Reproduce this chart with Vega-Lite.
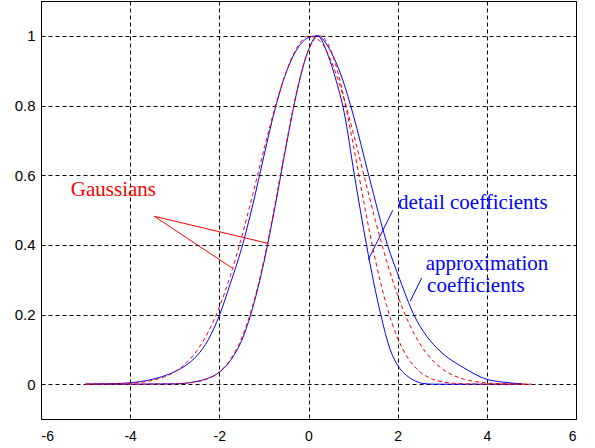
{
  "$schema": "https://vega.github.io/schema/vega-lite/v6.json",
  "width": 535,
  "height": 418,
  "autosize": {"type": "none"},
  "padding": {"left": 41, "top": 1, "right": 19, "bottom": 29},
  "background": "white",
  "config": {
    "view": {"stroke": "black", "strokeWidth": 1},
    "axis": {
      "grid": true, "gridColor": "black", "gridOpacity": 1, "gridDash": [4, 3], "gridWidth": 1,
      "domainColor": "black", "domainWidth": 1, "ticks": false, "tickSize": 0,
      "labelColor": "black", "labelFont": "Liberation Sans", "title": null
    }
  },
  "datasets": {
    "curves": [
      {"curve": "approx", "kind": "blue", "x": -5, "y": 0},
      {"curve": "approx", "kind": "blue", "x": -4.5, "y": 0.001},
      {"curve": "approx", "kind": "blue", "x": -4, "y": 0.004},
      {"curve": "approx", "kind": "blue", "x": -3.5, "y": 0.014},
      {"curve": "approx", "kind": "blue", "x": -3, "y": 0.036},
      {"curve": "approx", "kind": "blue", "x": -2.75, "y": 0.054},
      {"curve": "approx", "kind": "blue", "x": -2.5, "y": 0.082},
      {"curve": "approx", "kind": "blue", "x": -2.25, "y": 0.127},
      {"curve": "approx", "kind": "blue", "x": -2, "y": 0.197},
      {"curve": "approx", "kind": "blue", "x": -1.75, "y": 0.29},
      {"curve": "approx", "kind": "blue", "x": -1.5, "y": 0.39},
      {"curve": "approx", "kind": "blue", "x": -1.25, "y": 0.515},
      {"curve": "approx", "kind": "blue", "x": -1, "y": 0.655},
      {"curve": "approx", "kind": "blue", "x": -0.75, "y": 0.79},
      {"curve": "approx", "kind": "blue", "x": -0.5, "y": 0.895},
      {"curve": "approx", "kind": "blue", "x": -0.25, "y": 0.963},
      {"curve": "approx", "kind": "blue", "x": 0, "y": 0.995},
      {"curve": "approx", "kind": "blue", "x": 0.2, "y": 1.0},
      {"curve": "approx", "kind": "blue", "x": 0.5, "y": 0.955},
      {"curve": "approx", "kind": "blue", "x": 0.75, "y": 0.88},
      {"curve": "approx", "kind": "blue", "x": 1.0, "y": 0.775},
      {"curve": "approx", "kind": "blue", "x": 1.35, "y": 0.6},
      {"curve": "approx", "kind": "blue", "x": 1.77, "y": 0.4},
      {"curve": "approx", "kind": "blue", "x": 2.05, "y": 0.3},
      {"curve": "approx", "kind": "blue", "x": 2.36, "y": 0.2},
      {"curve": "approx", "kind": "blue", "x": 2.65, "y": 0.138},
      {"curve": "approx", "kind": "blue", "x": 2.95, "y": 0.095},
      {"curve": "approx", "kind": "blue", "x": 3.47, "y": 0.048},
      {"curve": "approx", "kind": "blue", "x": 4.0, "y": 0.014},
      {"curve": "approx", "kind": "blue", "x": 4.35, "y": 0.006},
      {"curve": "approx", "kind": "blue", "x": 4.8, "y": 0.001},

      {"curve": "detail", "kind": "blue", "x": -5, "y": 0},
      {"curve": "detail", "kind": "blue", "x": -4, "y": 0},
      {"curve": "detail", "kind": "blue", "x": -3, "y": 0.001},
      {"curve": "detail", "kind": "blue", "x": -2.5, "y": 0.008},
      {"curve": "detail", "kind": "blue", "x": -2.25, "y": 0.017},
      {"curve": "detail", "kind": "blue", "x": -2, "y": 0.034},
      {"curve": "detail", "kind": "blue", "x": -1.75, "y": 0.068},
      {"curve": "detail", "kind": "blue", "x": -1.5, "y": 0.125},
      {"curve": "detail", "kind": "blue", "x": -1.25, "y": 0.22},
      {"curve": "detail", "kind": "blue", "x": -1, "y": 0.35},
      {"curve": "detail", "kind": "blue", "x": -0.75, "y": 0.51},
      {"curve": "detail", "kind": "blue", "x": -0.5, "y": 0.685},
      {"curve": "detail", "kind": "blue", "x": -0.25, "y": 0.845},
      {"curve": "detail", "kind": "blue", "x": 0, "y": 0.96},
      {"curve": "detail", "kind": "blue", "x": 0.2, "y": 1.0},
      {"curve": "detail", "kind": "blue", "x": 0.45, "y": 0.94},
      {"curve": "detail", "kind": "blue", "x": 0.6, "y": 0.88},
      {"curve": "detail", "kind": "blue", "x": 0.8, "y": 0.78},
      {"curve": "detail", "kind": "blue", "x": 1.03, "y": 0.6},
      {"curve": "detail", "kind": "blue", "x": 1.3, "y": 0.4},
      {"curve": "detail", "kind": "blue", "x": 1.62, "y": 0.2},
      {"curve": "detail", "kind": "blue", "x": 1.83, "y": 0.1},
      {"curve": "detail", "kind": "blue", "x": 2.01, "y": 0.052},
      {"curve": "detail", "kind": "blue", "x": 2.2, "y": 0.025},
      {"curve": "detail", "kind": "blue", "x": 2.35, "y": 0.012},
      {"curve": "detail", "kind": "blue", "x": 2.57, "y": 0.002},
      {"curve": "detail", "kind": "blue", "x": 2.8, "y": 0},
      {"curve": "detail", "kind": "blue", "x": 4.8, "y": 0},

      {"curve": "gwide", "kind": "red", "x": -5, "y": 0.0001},
      {"curve": "gwide", "kind": "red", "x": -4.5, "y": 0.0006},
      {"curve": "gwide", "kind": "red", "x": -4, "y": 0.0028},
      {"curve": "gwide", "kind": "red", "x": -3.75, "y": 0.0056},
      {"curve": "gwide", "kind": "red", "x": -3.5, "y": 0.0108},
      {"curve": "gwide", "kind": "red", "x": -3.25, "y": 0.02},
      {"curve": "gwide", "kind": "red", "x": -3, "y": 0.0354},
      {"curve": "gwide", "kind": "red", "x": -2.75, "y": 0.0599},
      {"curve": "gwide", "kind": "red", "x": -2.5, "y": 0.0968},
      {"curve": "gwide", "kind": "red", "x": -2.25, "y": 0.1497},
      {"curve": "gwide", "kind": "red", "x": -2, "y": 0.2211},
      {"curve": "gwide", "kind": "red", "x": -1.75, "y": 0.3125},
      {"curve": "gwide", "kind": "red", "x": -1.5, "y": 0.422},
      {"curve": "gwide", "kind": "red", "x": -1.25, "y": 0.5451},
      {"curve": "gwide", "kind": "red", "x": -1, "y": 0.6731},
      {"curve": "gwide", "kind": "red", "x": -0.75, "y": 0.7947},
      {"curve": "gwide", "kind": "red", "x": -0.5, "y": 0.8971},
      {"curve": "gwide", "kind": "red", "x": -0.25, "y": 0.9682},
      {"curve": "gwide", "kind": "red", "x": 0, "y": 0.9991},
      {"curve": "gwide", "kind": "red", "x": 0.25, "y": 0.9857},
      {"curve": "gwide", "kind": "red", "x": 0.5, "y": 0.9299},
      {"curve": "gwide", "kind": "red", "x": 0.75, "y": 0.8387},
      {"curve": "gwide", "kind": "red", "x": 1, "y": 0.7232},
      {"curve": "gwide", "kind": "red", "x": 1.25, "y": 0.5963},
      {"curve": "gwide", "kind": "red", "x": 1.5, "y": 0.47},
      {"curve": "gwide", "kind": "red", "x": 1.75, "y": 0.3543},
      {"curve": "gwide", "kind": "red", "x": 2, "y": 0.2553},
      {"curve": "gwide", "kind": "red", "x": 2.25, "y": 0.1759},
      {"curve": "gwide", "kind": "red", "x": 2.5, "y": 0.1159},
      {"curve": "gwide", "kind": "red", "x": 2.75, "y": 0.073},
      {"curve": "gwide", "kind": "red", "x": 3, "y": 0.044},
      {"curve": "gwide", "kind": "red", "x": 3.25, "y": 0.0253},
      {"curve": "gwide", "kind": "red", "x": 3.5, "y": 0.0139},
      {"curve": "gwide", "kind": "red", "x": 3.75, "y": 0.0073},
      {"curve": "gwide", "kind": "red", "x": 4, "y": 0.0037},
      {"curve": "gwide", "kind": "red", "x": 4.5, "y": 0.0008},
      {"curve": "gwide", "kind": "red", "x": 5, "y": 0.0001},

      {"curve": "gnarrow", "kind": "red", "x": -5, "y": 0},
      {"curve": "gnarrow", "kind": "red", "x": -4, "y": 0},
      {"curve": "gnarrow", "kind": "red", "x": -3, "y": 0.0009},
      {"curve": "gnarrow", "kind": "red", "x": -2.75, "y": 0.0026},
      {"curve": "gnarrow", "kind": "red", "x": -2.5, "y": 0.0068},
      {"curve": "gnarrow", "kind": "red", "x": -2.25, "y": 0.0161},
      {"curve": "gnarrow", "kind": "red", "x": -2, "y": 0.0353},
      {"curve": "gnarrow", "kind": "red", "x": -1.75, "y": 0.0712},
      {"curve": "gnarrow", "kind": "red", "x": -1.5, "y": 0.1323},
      {"curve": "gnarrow", "kind": "red", "x": -1.25, "y": 0.2263},
      {"curve": "gnarrow", "kind": "red", "x": -1, "y": 0.3563},
      {"curve": "gnarrow", "kind": "red", "x": -0.75, "y": 0.5166},
      {"curve": "gnarrow", "kind": "red", "x": -0.5, "y": 0.6897},
      {"curve": "gnarrow", "kind": "red", "x": -0.25, "y": 0.8478},
      {"curve": "gnarrow", "kind": "red", "x": 0, "y": 0.9596},
      {"curve": "gnarrow", "kind": "red", "x": 0.25, "y": 1.0},
      {"curve": "gnarrow", "kind": "red", "x": 0.5, "y": 0.9596},
      {"curve": "gnarrow", "kind": "red", "x": 0.75, "y": 0.8478},
      {"curve": "gnarrow", "kind": "red", "x": 1, "y": 0.6897},
      {"curve": "gnarrow", "kind": "red", "x": 1.25, "y": 0.5166},
      {"curve": "gnarrow", "kind": "red", "x": 1.5, "y": 0.3563},
      {"curve": "gnarrow", "kind": "red", "x": 1.75, "y": 0.2263},
      {"curve": "gnarrow", "kind": "red", "x": 2, "y": 0.1323},
      {"curve": "gnarrow", "kind": "red", "x": 2.25, "y": 0.0712},
      {"curve": "gnarrow", "kind": "red", "x": 2.5, "y": 0.0353},
      {"curve": "gnarrow", "kind": "red", "x": 2.75, "y": 0.0161},
      {"curve": "gnarrow", "kind": "red", "x": 3, "y": 0.0068},
      {"curve": "gnarrow", "kind": "red", "x": 3.25, "y": 0.0026},
      {"curve": "gnarrow", "kind": "red", "x": 3.5, "y": 0.0009},
      {"curve": "gnarrow", "kind": "red", "x": 4, "y": 0},
      {"curve": "gnarrow", "kind": "red", "x": 5, "y": 0}
    ],
    "pointers": [
      {"id": "g1", "kind": "red", "x": -3.46, "y": 0.482},
      {"id": "g1", "kind": "red", "x": -0.9, "y": 0.404},
      {"id": "g2", "kind": "red", "x": -3.46, "y": 0.482},
      {"id": "g2", "kind": "red", "x": -1.72, "y": 0.334},
      {"id": "det", "kind": "blue", "x": 1.89, "y": 0.499},
      {"id": "det", "kind": "blue", "x": 1.34, "y": 0.357},
      {"id": "app", "kind": "blue", "x": 2.54, "y": 0.305},
      {"id": "app", "kind": "blue", "x": 2.28, "y": 0.238}
    ],
    "labels": [
      {"text": "Gaussians", "kind": "red", "x": -5.33, "y": 0.541},
      {"text": "detail coefficients", "kind": "blue", "x": 2.01, "y": 0.503},
      {"text": "approximation", "kind": "blue", "x": 2.63, "y": 0.329},
      {"text": "coefficients", "kind": "blue", "x": 2.66, "y": 0.264}
    ]
  },
  "encoding": {
    "x": {
      "field": "x", "type": "quantitative",
      "scale": {"domain": [-6, 6], "nice": false, "zero": false},
      "axis": {"values": [-6, -4, -2, 0, 2, 4, 6], "labelExpr": "datum.value + ''", "labelFontSize": 14, "labelPadding": 10}
    },
    "y": {
      "field": "y", "type": "quantitative",
      "scale": {"domain": [-0.1, 1.1], "nice": false, "zero": false},
      "axis": {"values": [0, 0.2, 0.4, 0.6, 0.8, 1], "labelExpr": "datum.value + ''", "labelFontSize": 15, "labelPadding": 6}
    }
  },
  "layer": [
    {
      "data": {"name": "curves"},
      "transform": [{"filter": "datum.kind == 'blue'"}],
      "mark": {"type": "line", "color": "#0000ff", "strokeWidth": 1, "clip": true, "interpolate": "monotone"},
      "encoding": {"detail": {"field": "curve"}, "order": {"field": "x"}}
    },
    {
      "data": {"name": "curves"},
      "transform": [{"filter": "datum.kind == 'red'"}],
      "mark": {"type": "line", "color": "#ff0000", "strokeWidth": 1, "strokeDash": [4, 3], "clip": true, "interpolate": "monotone"},
      "encoding": {"detail": {"field": "curve"}, "order": {"field": "x"}}
    },
    {
      "data": {"name": "pointers"},
      "mark": {"type": "line", "strokeWidth": 1},
      "encoding": {
        "detail": {"field": "id"},
        "color": {"field": "kind", "type": "nominal", "scale": {"domain": ["red", "blue"], "range": ["#ff0000", "#0000ff"]}, "legend": null}
      }
    },
    {
      "data": {"name": "labels"},
      "mark": {"type": "text", "align": "left", "baseline": "alphabetic", "font": "Liberation Serif", "fontSize": 21},
      "encoding": {
        "text": {"field": "text"},
        "color": {"field": "kind", "type": "nominal", "scale": {"domain": ["red", "blue"], "range": ["#ff0000", "#0000ff"]}, "legend": null}
      }
    }
  ]
}
